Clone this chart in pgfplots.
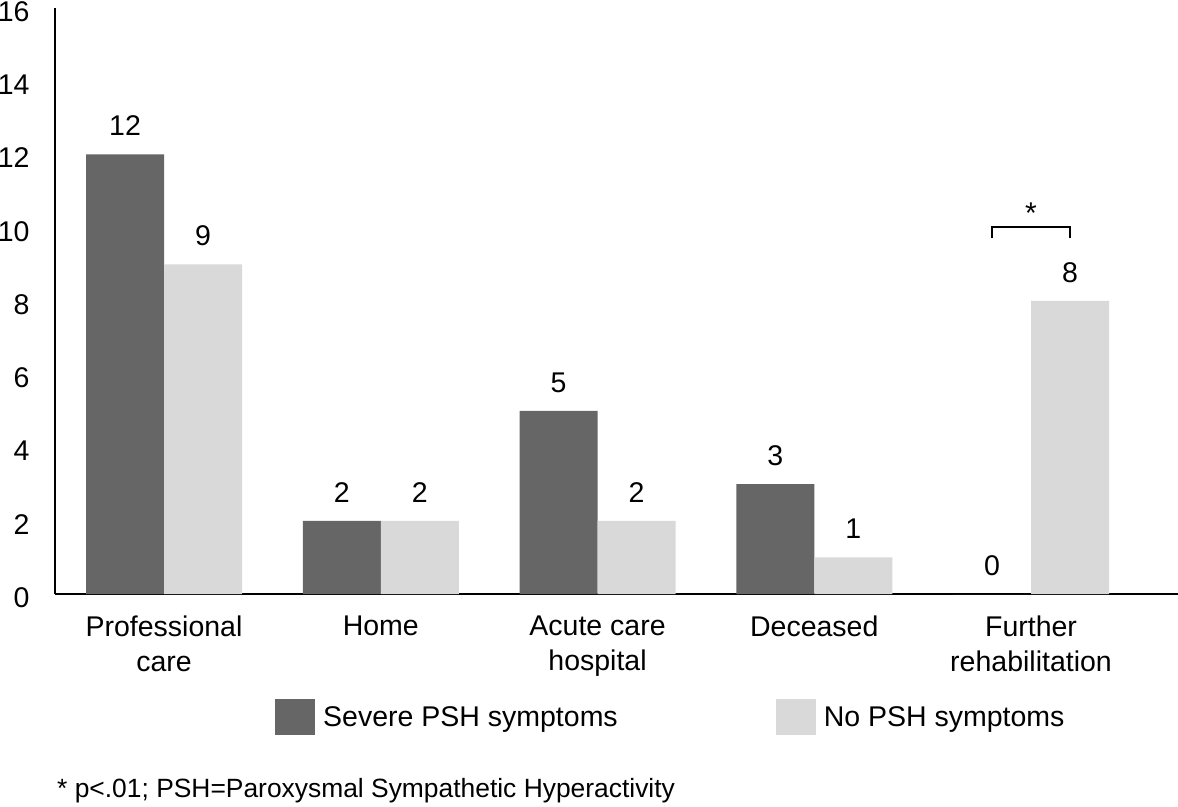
\documentclass[border=0pt]{standalone}
\usepackage{pgfplots}
\pgfplotsset{compat=1.18}
\usepackage{fontspec}
\setmainfont{Liberation Sans}
\definecolor{darkbar}{HTML}{666666}
\definecolor{lightbar}{HTML}{D9D9D9}
\begin{document}
\begin{tikzpicture}
\path[use as bounding box] (-55pt,-212pt) rectangle (1123pt,594pt);
\begin{axis}[
  at={(0,0)}, anchor=south west,
  scale only axis, width=1123pt, height=586pt,
  xmin=-0.503, xmax=4.678, ymin=0, ymax=16,
  ybar=0pt, bar width=78pt,
  axis x line*=bottom, axis y line*=left,
  axis line style={line width=1.6pt, -},
  xtick={0,1,2,3,4},
  xticklabels={Professional\\care, Home, Acute care\\hospital, Deceased, Further\\rehabilitation},
  ytick={0,2,...,16},
  major tick length=0pt,
  tick label style={font=\fontsize{28.5}{35}\selectfont},
  /pgf/number format/assume math mode=true,
  yticklabel style={xshift=-22pt, yshift=-3.5pt},
  xticklabel style={align=center, yshift=-18pt},
  nodes near coords,
  nodes near coords style={font=\fontsize{28.5}{34}\selectfont, yshift=15pt},
  legend columns=2,
  legend style={at={(axis description cs:0.1959,-0.2099)}, anchor=west, draw=none, inner sep=0pt,
    font=\fontsize{28.5}{34}\selectfont,
    nodes={inner sep=0pt},
    /tikz/every odd column/.append style={column sep=8pt},
    /tikz/every even column/.append style={column sep=158pt}},
]
\addplot[fill=darkbar, draw=none, legend image code/.code={\fill[darkbar] (0pt,-18pt) rectangle (40pt,18pt);}]
  coordinates {(0,12) (1,2) (2,5) (3,3) (4,0)};
\addplot[fill=lightbar, draw=none, legend image code/.code={\fill[lightbar] (0pt,-18pt) rectangle (40pt,18pt);}]
  coordinates {(0,9) (1,2) (2,2) (3,1) (4,8)};
\legend{Severe PSH symptoms, No PSH symptoms}
\draw[line width=2.5pt] (axis cs:3.82,9.72) -- (axis cs:3.82,10.02) -- (axis cs:4.18,10.02) -- (axis cs:4.18,9.72);
\node[font=\fontsize{30}{34}\selectfont] at (axis cs:4,10.40) {*};
\end{axis}
\node[anchor=base west, inner sep=0pt, font=\fontsize{26.4}{30}\selectfont] at (2pt,-203pt) {* p<.01; PSH=Paroxysmal Sympathetic Hyperactivity};
\end{tikzpicture}
\end{document}
